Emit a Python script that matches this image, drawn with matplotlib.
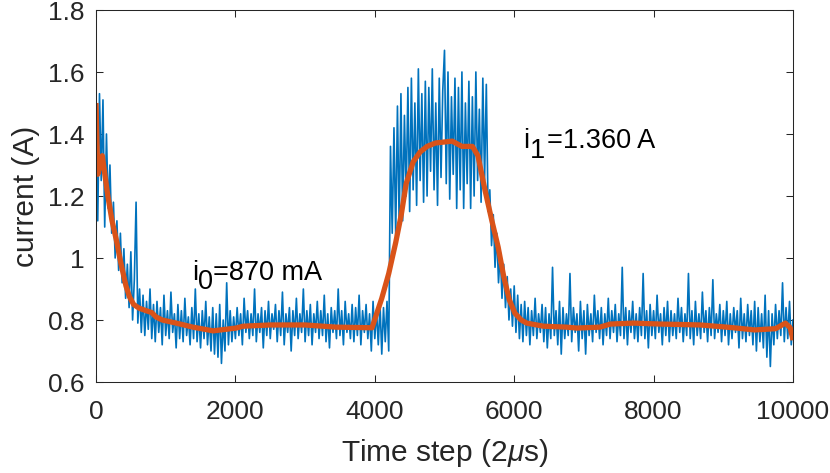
import numpy as np
import matplotlib
matplotlib.use("Agg")
import matplotlib.pyplot as plt
from matplotlib import font_manager

# ---------------- data ----------------
# raw current samples (A), one every 25 time steps from 0 to 10000
current_raw = [
    1.48, 1.12, 1.53, 1.25, 1.51, 1.10, 1.40, 1.16, 1.30, 1.08,
    1.18, 1.00, 1.12, 0.96, 1.08, 0.92, 1.03, 0.87, 0.98, 0.84,
    1.02, 0.80, 0.93, 1.18, 0.79, 0.90, 0.76, 0.88, 0.75, 0.86,
    0.77, 0.90, 0.74, 0.85, 0.73, 0.86, 0.76, 0.84, 0.72, 0.88,
    0.75, 0.83, 0.74, 0.89, 0.76, 0.82, 0.71, 0.85, 0.74, 0.83,
    0.73, 0.87, 0.75, 0.81, 0.72, 0.84, 0.74, 0.90, 0.73, 0.82,
    0.71, 0.83, 0.74, 0.86, 0.72, 0.81, 0.70, 0.84, 0.69, 0.82,
    0.68, 0.85, 0.66, 0.80, 0.70, 0.92, 0.72, 0.83, 0.73, 0.81,
    0.74, 0.84, 0.75, 0.82, 0.72, 0.87, 0.76, 0.83, 0.74, 0.82,
    0.75, 0.90, 0.73, 0.82, 0.76, 0.84, 0.71, 0.83, 0.75, 0.86,
    0.74, 0.82, 0.77, 0.85, 0.73, 0.83, 0.75, 0.89, 0.72, 0.82,
    0.76, 0.84, 0.70, 0.83, 0.75, 0.87, 0.74, 0.82, 0.76, 0.90,
    0.73, 0.83, 0.75, 0.85, 0.72, 0.82, 0.76, 0.86, 0.74, 0.83,
    0.75, 0.88, 0.73, 0.82, 0.71, 0.84, 0.76, 0.83, 0.74, 0.90,
    0.75, 0.83, 0.72, 0.86, 0.76, 0.82, 0.74, 0.85, 0.73, 0.84,
    0.75, 0.88, 0.72, 0.83, 0.76, 0.85, 0.74, 0.82, 0.70, 0.86,
    0.74, 0.83, 0.72, 0.85, 0.69, 0.84, 0.73, 0.86, 0.70, 1.36,
    1.08, 1.42, 1.07, 1.49, 1.10, 1.53, 1.12, 1.46, 1.20, 1.55,
    1.15, 1.58, 1.22, 1.50, 1.17, 1.61, 1.25, 1.53, 1.18, 1.57,
    1.20, 1.55, 1.28, 1.61, 1.22, 1.50, 1.17, 1.58, 1.26, 1.54,
    1.67, 1.24, 1.60, 1.19, 1.52, 1.27, 1.58, 1.16, 1.55, 1.22,
    1.60, 1.16, 1.50, 1.24, 1.57, 1.16, 1.52, 1.20, 1.60, 1.25,
    1.48, 1.18, 1.58, 1.25, 1.56, 1.15, 1.22, 1.04, 1.14, 0.97,
    1.08, 0.92, 1.02, 0.87, 0.98, 0.84, 0.94, 0.80, 0.90, 0.78,
    0.91, 0.76, 0.88, 0.74, 0.85, 0.73, 0.86, 0.75, 0.84, 0.72,
    0.83, 0.75, 0.87, 0.74, 0.82, 0.76, 0.85, 0.73, 0.84, 0.71,
    0.82, 0.74, 0.97, 0.75, 0.83, 0.72, 0.86, 0.69, 0.84, 0.74,
    0.82, 0.75, 0.95, 0.73, 0.84, 0.76, 0.82, 0.70, 0.86, 0.74,
    0.83, 0.69, 0.85, 0.75, 0.82, 0.73, 0.88, 0.76, 0.83, 0.74,
    0.84, 0.72, 0.82, 0.75, 0.87, 0.74, 0.83, 0.76, 0.85, 0.73,
    0.82, 0.75, 0.97, 0.74, 0.84, 0.72, 0.83, 0.76, 0.86, 0.74,
    0.82, 0.73, 0.84, 0.75, 0.95, 0.74, 0.83, 0.71, 0.85, 0.75,
    0.83, 0.74, 0.88, 0.76, 0.82, 0.72, 0.84, 0.75, 0.86, 0.73,
    0.83, 0.75, 0.82, 0.74, 0.87, 0.76, 0.84, 0.73, 0.82, 0.75,
    0.95, 0.74, 0.83, 0.72, 0.86, 0.75, 0.82, 0.74, 0.89, 0.76,
    0.83, 0.73, 0.84, 0.75, 0.93, 0.74, 0.82, 0.76, 0.85, 0.73,
    0.83, 0.75, 0.86, 0.72, 0.82, 0.74, 0.84, 0.76, 0.83, 0.71,
    0.87, 0.74, 0.82, 0.73, 0.85, 0.75, 0.83, 0.72, 0.86, 0.70,
    0.84, 0.73, 0.82, 0.71, 0.88, 0.68, 0.83, 0.65, 0.82, 0.72,
    0.85, 0.74, 0.83, 0.75, 0.92, 0.73, 0.84, 0.74, 0.86, 0.72,
    0.80,
]

# smoothed current (A) at given time steps
smooth_steps = [0, 25, 90, 170, 230, 290, 360, 430, 480, 540, 620, 720, 800,
                860, 950, 1150, 1390, 1680, 2010, 2110, 2500, 3000, 3440,
                3960, 4100, 4200, 4300, 4380, 4450, 4550, 4650, 4750, 4870,
                5110, 5250, 5400, 5480, 5580, 5680, 5770, 5850, 5930, 6010,
                6100, 6180, 6420, 6750, 6900, 7230, 7380, 7710, 8090, 8670,
                9100, 9450, 9750, 9890, 9960, 10000]
smooth_current = [1.50, 1.27, 1.33, 1.20, 1.12, 1.06, 0.98, 0.91, 0.875,
                  0.85, 0.838, 0.83, 0.824, 0.81, 0.80, 0.79, 0.777, 0.765,
                  0.774, 0.78, 0.784, 0.784, 0.777, 0.775, 0.87, 0.95, 1.05,
                  1.14, 1.24, 1.31, 1.342, 1.36, 1.371, 1.377, 1.36, 1.36,
                  1.33, 1.22, 1.12, 1.035, 0.94, 0.865, 0.822, 0.80, 0.79,
                  0.78, 0.777, 0.774, 0.777, 0.787, 0.79, 0.787, 0.784,
                  0.776, 0.768, 0.772, 0.79, 0.775, 0.735]

x_ticks = [0, 2000, 4000, 6000, 8000, 10000]
y_ticks = [0.6, 0.8, 1.0, 1.2, 1.4, 1.6, 1.8]
y_ticklabels = ["0.6", "0.8", "1", "1.2", "1.4", "1.6", "1.8"]
label_i0 = ("i", "0", "=870 mA")
label_i1 = ("i", "1", "=1.360 A")
pos_i0 = (1380, 0.930)
pos_i1 = (6130, 1.355)

# ---------------- style ----------------
installed = {f.name for f in font_manager.fontManager.ttflist}
fam = [f for f in ["Liberation Sans Narrow", "Liberation Sans", "DejaVu Sans"] if f in installed]
plt.rcParams["font.family"] = fam
plt.rcParams["mathtext.fontset"] = "custom"
plt.rcParams["mathtext.rm"] = fam[0]
plt.rcParams["mathtext.it"] = fam[0] + ":italic"

BLUE = "#0072BD"
ORANGE = "#D95319"
AXC = "#262626"
FS = 19
FS_LABEL = 21.5
FS_TEXT = 19.5

fig = plt.figure(figsize=(8.30, 4.73), dpi=100)
ax = fig.add_axes([96 / 830, 1 - 382 / 473, (793 - 96) / 830, (382 - 10) / 473])

t_raw = np.linspace(0, 10000, len(current_raw))
ax.plot(t_raw, current_raw, color=BLUE, lw=1.2)
ax.plot(smooth_steps, smooth_current, color=ORANGE, lw=3.8,
        solid_joinstyle="round", solid_capstyle="butt")

ax.set_xlim(0, 10000)
ax.set_ylim(0.6, 1.8)
ax.set_xticks(x_ticks)
ax.set_xticklabels([str(v) for v in x_ticks])
ax.set_yticks(y_ticks)
ax.set_yticklabels(y_ticklabels)
ax.tick_params(direction="in", top=True, right=True, length=5, width=0.75,
               color=AXC, labelcolor=AXC, labelsize=FS)
ax.tick_params(axis="x", pad=13)
ax.tick_params(axis="y", pad=8)
for s in ax.spines.values():
    s.set_color(AXC)
    s.set_linewidth(0.75)

ax.set_xlabel(r"Time step (2$\mathit{\mu}$s)", fontsize=FS_LABEL, color=AXC, labelpad=9)
ax.set_ylabel("current (A)", fontsize=FS_LABEL, color=AXC, labelpad=6)


def sub_text(parts, pos, gap=0.0):
    main1, sub, main2 = parts
    fig.canvas.draw()
    r = fig.canvas.get_renderer()
    t1 = ax.text(pos[0], pos[1], main1, fontsize=FS_TEXT, color="black",
                 ha="left", va="baseline")
    w1 = t1.get_window_extent(r).width
    t2 = ax.annotate(sub, xy=pos, xytext=(w1 * 72 / fig.dpi, -7),
                     textcoords="offset points", fontsize=FS_TEXT, color="black",
                     ha="left", va="baseline")
    w2 = t2.get_window_extent(r).width
    ax.annotate(main2, xy=pos, xytext=((w1 + w2) * 72 / fig.dpi + gap, 0),
                textcoords="offset points", fontsize=FS_TEXT, color="black",
                ha="left", va="baseline")


sub_text(label_i0, pos_i0)
sub_text(label_i1, pos_i1, gap=2.0)

fig.savefig("out.png", dpi=100)
